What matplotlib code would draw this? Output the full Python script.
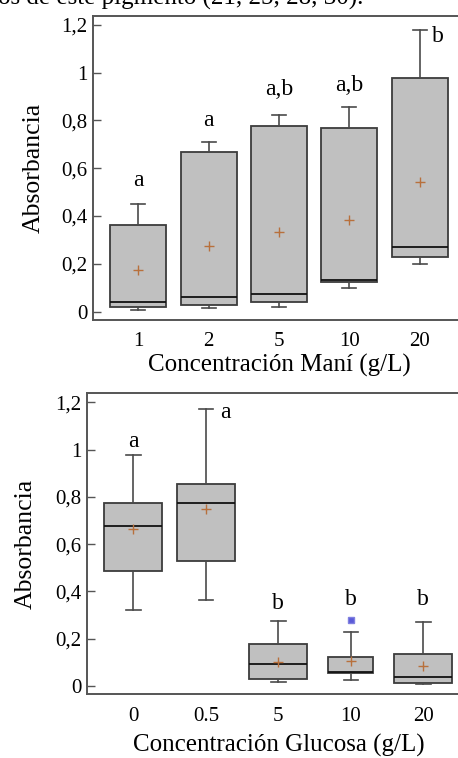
import matplotlib
matplotlib.use("Agg")
import matplotlib.pyplot as plt
import numpy as np

plt.rcParams['font.family'] = ['Liberation Serif', 'DejaVu Serif']

# ---- Data: top panel (Maní) ----
mani_cats = ["1", "2", "5", "10", "20"]
mani_whislo = [0.007, 0.017, 0.021, 0.099, 0.200]
mani_q1 = [0.020, 0.028, 0.039, 0.123, 0.228]
mani_med = [0.042, 0.060, 0.072, 0.134, 0.271]
mani_q3 = [0.363, 0.666, 0.775, 0.768, 0.975]
mani_whishi = [0.449, 0.709, 0.821, 0.855, 1.178]
mani_mean = [0.173, 0.274, 0.335, 0.383, 0.542]
mani_letters = ["a", "a", "a,b", "a,b", "b"]
mani_letter_y = [0.55, 0.80, 0.93, 0.945, 1.15]

# ---- Data: bottom panel (Glucosa) ----
glu_cats = ["0", "0.5", "5", "10", "20"]
glu_whislo = [0.321, 0.363, 0.018, 0.024, 0.007]
glu_q1 = [0.486, 0.527, 0.028, 0.057, 0.014]
glu_med = [0.678, 0.774, 0.094, 0.058, 0.040]
glu_q3 = [0.774, 0.856, 0.179, 0.121, 0.134]
glu_whishi = [0.977, 1.173, 0.275, 0.230, 0.271]
glu_mean = [0.665, 0.750, 0.100, 0.107, 0.083]
glu_fliers = [[], [], [], [0.280], []]
glu_letters = ["a", "a", "b", "b", "b"]
glu_letter_y = [1.035, 1.155, 0.35, 0.364, 0.364]

yticks = [0, 0.2, 0.4, 0.6, 0.8, 1.0, 1.2]
ytick_labels = ["0", "0,2", "0,4", "0,6", "0,8", "1", "1,2"]

W, H = 458, 758
fig = plt.figure(figsize=(W / 100, H / 100), dpi=100)


def px_axes(l, t, r, b):
    return fig.add_axes([l / W, 1 - b / H, (r - l) / W, (b - t) / H])


box_face = "#c0c0c0"
edge = "#3c3c3c"
mean_col = "#b8703c"


def draw(ax, cats, wl, q1, med, q3, wh, mean, fliers, letters, ly, xlabel, letter_dx, widths,
         xlabelpad, ylabelpad):
    stats = []
    for i in range(len(cats)):
        stats.append(dict(med=med[i], q1=q1[i], q3=q3[i], whislo=wl[i], whishi=wh[i],
                          mean=mean[i], fliers=fliers[i] if fliers else []))
    pos = np.arange(len(cats))
    ax.bxp(stats, positions=pos, widths=widths, patch_artist=True, showmeans=True,
           boxprops=dict(facecolor=box_face, edgecolor=edge, linewidth=1.3),
           medianprops=dict(color="#111111", linewidth=1.3),
           whiskerprops=dict(color="#4a4a4a", linewidth=1.2),
           capprops=dict(color="#4a4a4a", linewidth=1.2),
           capwidths=0.2,
           meanprops=dict(marker="+", markeredgecolor=mean_col, markersize=7, markeredgewidth=1.0),
           flierprops=dict(marker="s", markerfacecolor="#5a5ad8", markeredgecolor="#8080e0",
                           markersize=4))
    ax.set_xlim(-0.645, len(cats) - 1 + 0.645)
    ax.set_ylim(-0.035, 1.238)
    ax.set_yticks(yticks)
    ax.set_yticklabels(ytick_labels)
    ax.set_xticks(pos)
    ax.set_xticklabels(cats)
    ax.tick_params(axis="y", direction="in", length=6, width=1.0, color="#555555",
                   labelsize=15, pad=4)
    ax.tick_params(axis="x", length=0, labelsize=15, pad=9)
    for s in ["left", "bottom", "top", "right"]:
        ax.spines[s].set_color("#555555")
        ax.spines[s].set_linewidth(1.4)
    ax.set_xlabel(xlabel, fontsize=18, labelpad=xlabelpad)
    ax.set_ylabel("Absorbancia", fontsize=18.5, labelpad=ylabelpad)
    for i, (t, y) in enumerate(zip(letters, ly)):
        ax.text(pos[i] + letter_dx[i], y, t, ha="center" if letter_dx[i] == 0 else "left",
                va="center", fontsize=17)


ax1 = px_axes(93, 15.6, 465, 320)
draw(ax1, mani_cats, mani_whislo, mani_q1, mani_med, mani_q3, mani_whishi, mani_mean, None,
     mani_letters, mani_letter_y, "Concentración Maní (g/L)", [0, 0, 0, 0, 0.17], 0.8, 2, 12)

ax2 = px_axes(86.7, 393.3, 470, 694.3)
draw(ax2, glu_cats, glu_whislo, glu_q1, glu_med, glu_q3, glu_whishi, glu_mean, glu_fliers,
     glu_letters, glu_letter_y, "Concentración Glucosa (g/L)", [0, 0.2, 0, 0, 0],
     [0.8, 0.8, 0.8, 0.62, 0.8], 5.5, 13)

fig.text(-0.005, 1 - 5 / H, "os de este pigmento (21, 25, 28, 30).", ha="left", va="baseline",
         fontsize=18)

fig.savefig("out.png", dpi=100)
